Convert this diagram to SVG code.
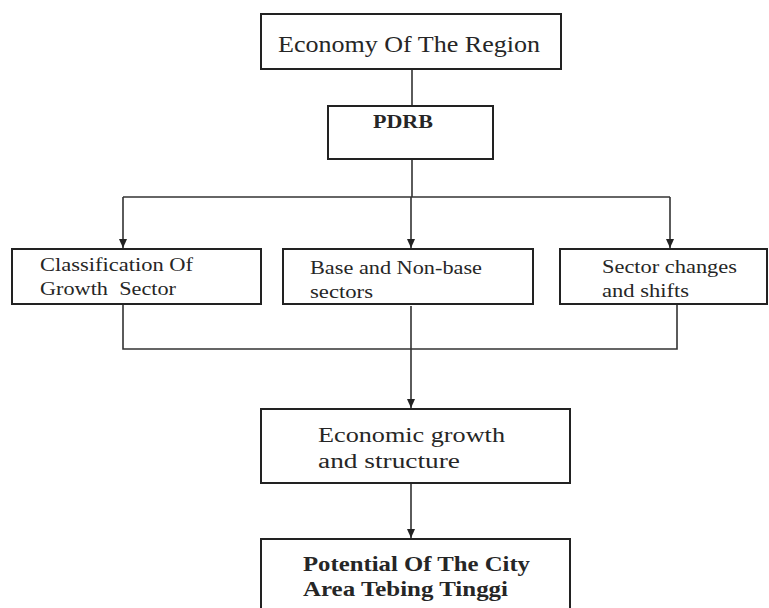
<svg xmlns="http://www.w3.org/2000/svg" width="769" height="608" viewBox="0 0 769 608">
<style>
.box{fill:#fff;stroke:#222;stroke-width:2}
.t{font-family:"Liberation Serif","Times New Roman",serif;fill:#262626;white-space:pre}
.b{font-weight:bold}
.c{fill:none;stroke:#333;stroke-width:1.6}
</style>
<defs>
<marker id="ah" markerWidth="10" markerHeight="8" refX="9" refY="4" orient="auto" markerUnits="userSpaceOnUse">
<path d="M0,0 L9,4 L0,8 Z" fill="#222"/>
</marker>
</defs>
<rect width="769" height="608" fill="#fff"/>
<g id="connectors">
<line class="c" x1="412" y1="69" x2="412" y2="106"/>
<line class="c" x1="412" y1="159" x2="412" y2="197"/>
<polyline class="c" points="123,197 670,197"/>
<line class="c" x1="123" y1="197" x2="123" y2="248" marker-end="url(#ah)"/>
<line class="c" x1="411" y1="197" x2="411" y2="248" marker-end="url(#ah)"/>
<line class="c" x1="670" y1="197" x2="670" y2="248" marker-end="url(#ah)"/>
<polyline class="c" points="123,305 123,349 677,349 677,305"/>
<line class="c" x1="411" y1="306" x2="411" y2="408" marker-end="url(#ah)"/>
<line class="c" x1="411" y1="484" x2="411" y2="538" marker-end="url(#ah)"/>
</g>
<g id="economy">
<rect class="box" x="261" y="14" width="300" height="55"/>
<text class="t" x="278" y="52" font-size="24" textLength="262" lengthAdjust="spacingAndGlyphs">Economy Of The Region</text>
</g>
<g id="pdrb">
<rect class="box" x="328" y="106" width="165" height="53"/>
<text class="t b" x="373" y="128" font-size="19" textLength="60" lengthAdjust="spacingAndGlyphs">PDRB</text>
</g>
<g id="classification">
<rect class="box" x="12" y="249" width="249" height="55"/>
<text class="t" x="40" y="271" font-size="18" textLength="153" lengthAdjust="spacingAndGlyphs">Classification Of</text>
<text class="t" x="40" y="295" font-size="18" textLength="136" lengthAdjust="spacingAndGlyphs">Growth  Sector</text>
</g>
<g id="base">
<rect class="box" x="283" y="249" width="250" height="55"/>
<text class="t" x="310" y="274" font-size="18" textLength="172" lengthAdjust="spacingAndGlyphs">Base and Non-base</text>
<text class="t" x="310" y="298" font-size="18" textLength="63" lengthAdjust="spacingAndGlyphs">sectors</text>
</g>
<g id="shifts">
<rect class="box" x="560" y="249" width="207" height="55"/>
<text class="t" x="602" y="273" font-size="18" textLength="135" lengthAdjust="spacingAndGlyphs">Sector changes</text>
<text class="t" x="602" y="297" font-size="18" textLength="87" lengthAdjust="spacingAndGlyphs">and shifts</text>
</g>
<g id="growth">
<rect class="box" x="261" y="409" width="309" height="74"/>
<text class="t" x="318" y="442" font-size="20" textLength="187" lengthAdjust="spacingAndGlyphs">Economic growth</text>
<text class="t" x="318" y="468" font-size="20" textLength="142" lengthAdjust="spacingAndGlyphs">and structure</text>
</g>
<g id="potential">
<rect class="box" x="261" y="539" width="309" height="80"/>
<text class="t b" x="303" y="571" font-size="21" textLength="227" lengthAdjust="spacingAndGlyphs">Potential Of The City</text>
<text class="t b" x="303" y="596" font-size="21" textLength="205" lengthAdjust="spacingAndGlyphs">Area Tebing Tinggi</text>
</g>
</svg>
